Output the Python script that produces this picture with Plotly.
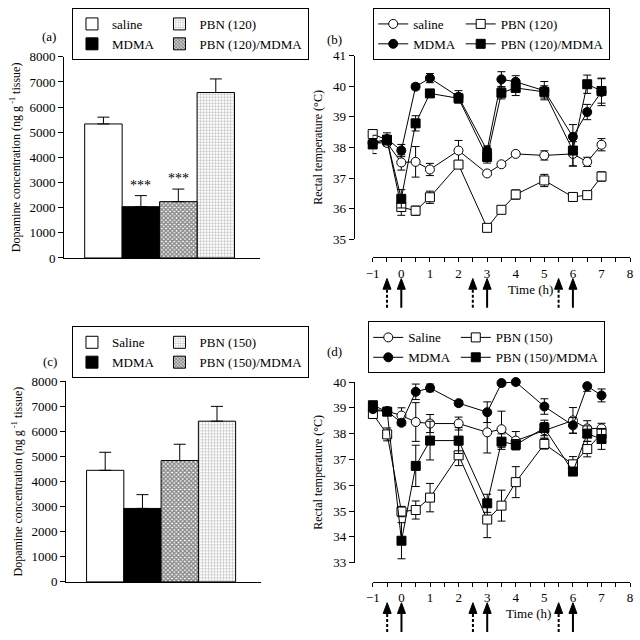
import plotly.graph_objects as go

# ---------------- data ----------------
bar_groups_a = ["saline", "MDMA", "PBN (120)/MDMA", "PBN (120)"]
bar_mean_a = [5330, 2040, 2240, 6580]
bar_err_a = [270, 440, 500, 540]
sig_a = ["", "***", "***", ""]

bar_groups_c = ["Saline", "MDMA", "PBN (150)/MDMA", "PBN (150)"]
bar_mean_c = [4450, 2930, 4840, 6410]
bar_err_c = [720, 550, 650, 590]

time_h = [-1, -0.5, 0, 0.5, 1, 2, 3, 3.5, 4, 5, 6, 6.5, 7]

# panel (b)
b_saline = [38.15, 38.15, 37.51, 37.53, 37.28, 37.90, 37.15, 37.45, 37.79, 37.74, 37.79, 37.53, 38.09]
b_saline_err = [0.1, 0.1, 0.25, 0.5, 0.2, 0.33, 0.05, 0.05, 0.05, 0.15, 0.4, 0.15, 0.2]
b_pbn = [38.44, 38.25, 36.05, 35.93, 36.37, 37.44, 35.37, 35.96, 36.46, 36.92, 36.38, 36.44, 37.05]
b_pbn_err = [0.1, 0.1, 0.27, 0.15, 0.2, 0.1, 0.05, 0.05, 0.15, 0.2, 0.1, 0.05, 0.15]
b_mdma = [38.15, 38.28, 37.90, 39.99, 40.27, 39.66, 37.90, 40.23, 40.15, 39.86, 38.35, 39.16, 39.82]
b_mdma_err = [0.1, 0.2, 0.2, 0.1, 0.15, 0.2, 0.15, 0.25, 0.2, 0.3, 0.4, 0.25, 0.45]
b_pbnmdma = [38.10, 38.25, 36.32, 38.79, 39.77, 39.61, 37.69, 39.79, 39.95, 39.82, 37.90, 40.07, 39.85]
b_pbnmdma_err = [0.3, 0.1, 0.3, 0.25, 0.1, 0.15, 0.2, 0.2, 0.25, 0.2, 0.5, 0.3, 0.4]

# panel (d)
d_saline = [38.89, 38.87, 38.70, 38.45, 38.39, 38.39, 38.05, 38.17, 37.73, 38.13, 38.51, 38.20, 38.20]
d_saline_err = [0.1, 0.15, 0.3, 0.75, 0.35, 0.25, 0.8, 0.7, 0.35, 0.3, 0.5, 0.3, 0.2]
d_pbn = [38.76, 37.97, 34.98, 35.04, 35.52, 37.16, 34.67, 35.21, 36.12, 37.60, 36.81, 37.40, 38.00]
d_pbn_err = [0.1, 0.25, 0.2, 0.35, 0.55, 0.4, 0.7, 0.6, 0.6, 0.2, 0.3, 0.3, 0.2]
d_mdma = [38.95, 38.87, 38.42, 39.62, 39.77, 39.18, 38.83, 39.96, 40.00, 39.05, 38.32, 39.84, 39.48]
d_mdma_err = [0.1, 0.1, 0.1, 0.3, 0.15, 0.1, 0.4, 0.1, 0.1, 0.3, 0.3, 0.2, 0.25]
d_pbnmdma = [39.10, 38.85, 33.85, 36.75, 37.73, 37.73, 35.30, 37.69, 37.57, 38.22, 36.53, 38.00, 37.79]
d_pbnmdma_err = [0.1, 0.1, 0.7, 0.8, 0.75, 0.5, 0.35, 0.3, 0.2, 0.3, 0.15, 0.3, 0.4]

pbn_inj_times = [-0.5, 2.5, 5.5]
mdma_inj_times = [0, 3, 6]

FONT = "Liberation Serif"
SIZE = 640


def px(x):
    return x / SIZE


def py(y):
    return 1 - y / SIZE


fig = go.Figure()

bar_styles = [
    dict(color="white", pattern=None),
    dict(color="black", pattern=None),
    dict(color="white", pattern=dict(shape="x", fgcolor="#111", bgcolor="white", size=3, solidity=0.7)),
    dict(color="white", pattern=dict(shape="+", fgcolor="#777", bgcolor="white", size=3, solidity=0.35)),
]
leg_groups_bar = ["g1", "g1", "g2", "g2"]


def add_bars(groups, means, errs, xa, ya, legend):
    order = [0, 1, 3, 2]
    for i in order:
        st = bar_styles[i]
        marker = dict(color=st["color"], line=dict(color="black", width=1))
        if st["pattern"] is not None:
            marker["pattern"] = st["pattern"]
        fig.add_trace(go.Bar(
            x=[groups[i]], y=[means[i]], name=groups[i], width=1,
            marker=marker, xaxis=xa, yaxis=ya, legend=legend,
            legendgroup=legend + leg_groups_bar[i],
            error_y=dict(type="data", symmetric=False, array=[errs[i]], arrayminus=[0],
                         color="black", thickness=1, width=6),
        ))


add_bars(bar_groups_a, bar_mean_a, bar_err_a, "x", "y", "legend")
add_bars(bar_groups_c, bar_mean_c, bar_err_c, "x3", "y3", "legend3")

line_styles = [
    dict(symbol="circle", fill="white"),
    dict(symbol="square", fill="white"),
    dict(symbol="circle", fill="black"),
    dict(symbol="square", fill="black"),
]


def add_lines(names, series, errs, xa, ya, legend):
    for k in range(4):
        st = line_styles[k]
        fig.add_trace(go.Scatter(
            x=time_h, y=series[k], name=names[k], mode="lines+markers",
            xaxis=xa, yaxis=ya, legend=legend, legendgroup=legend + ("g1" if k in (0, 2) else "g2"),
            line=dict(color="black", width=1),
            marker=dict(symbol=st["symbol"], size=9, color=st["fill"], line=dict(color="black", width=1)),
            error_y=dict(type="data", array=errs[k], color="black", thickness=1, width=4),
            cliponaxis=False,
        ))


add_lines(["saline", "PBN (120)", "MDMA", "PBN (120)/MDMA"],
          [b_saline, b_pbn, b_mdma, b_pbnmdma],
          [b_saline_err, b_pbn_err, b_mdma_err, b_pbnmdma_err], "x2", "y2", "legend2")
add_lines(["Saline", "PBN (150)", "MDMA", "PBN (150)/MDMA"],
          [d_saline, d_pbn, d_mdma, d_pbnmdma],
          [d_saline_err, d_pbn_err, d_mdma_err, d_pbnmdma_err], "x4", "y4", "legend4")

axis_font = dict(family=FONT, size=13, color="black")
title_font = dict(family=FONT, size=12, color="black")
ytitle_dopa = "Dopamine concentration (ng g<sup> -1</sup> tissue)"
ytitle_temp = "Rectal temperature (°C)"

bar_x = dict(showline=True, linecolor="black", linewidth=1, showticklabels=False, ticks="",
             range=[-1.05, 4.18], showgrid=False, zeroline=False, fixedrange=True)
bar_y = dict(showline=True, linecolor="black", linewidth=1, ticks="outside", ticklen=5,
             tickcolor="black", range=[0, 8000], dtick=1000, showgrid=False, zeroline=False,
             tickfont=axis_font, title=dict(text=ytitle_dopa, font=title_font, standoff=6))

fig.update_layout(
    xaxis=dict(bar_x, domain=[px(58), px(257)], anchor="y",
               categoryorder="array", categoryarray=bar_groups_a),
    yaxis=dict(bar_y, domain=[py(257), py(51)], anchor="x"),
    xaxis3=dict(bar_x, domain=[px(60), px(258)], anchor="y3",
                categoryorder="array", categoryarray=bar_groups_c),
    yaxis3=dict(bar_y, domain=[py(588.7), py(383.3)], anchor="x3"),
)

time_x = dict(showline=True, linecolor="black", linewidth=1, ticks="outside", ticklen=4,
              tickcolor="black", range=[-1, 8], dtick=1, showgrid=False, zeroline=False,
              tickfont=axis_font, anchor="free",
              minor=dict(dtick=0.5, ticks="outside", ticklen=4, tickcolor="black", showgrid=False))
temp_y = dict(showline=True, linecolor="black", linewidth=1, ticks="outside", ticklen=5,
              tickcolor="black", dtick=1, showgrid=False, zeroline=False, tickfont=axis_font,
              anchor="free", title=dict(text=ytitle_temp, font=title_font, standoff=6))

fig.update_layout(
    xaxis2=dict(time_x, domain=[px(371.5), px(633)], position=py(256)),
    yaxis2=dict(temp_y, domain=[py(237.7), py(50)], range=[35, 41], position=px(352)),
    xaxis4=dict(time_x, domain=[px(371.7), px(633)], position=py(588.3)),
    yaxis4=dict(temp_y, domain=[py(569), py(384)], range=[33, 40], position=px(352.3)),
)

leg_common = dict(orientation="h", traceorder="grouped", bgcolor="white", bordercolor="black",
                  borderwidth=1, font=dict(family=FONT, size=13, color="black"),
                  xanchor="left", yanchor="top", itemwidth=30, tracegroupgap=0, itemclick=False)
fig.update_layout(
    legend=dict(leg_common, x=px(66), y=py(1)),
    legend2=dict(leg_common, x=px(372), y=py(1)),
    legend3=dict(leg_common, x=px(66), y=py(327)),
    legend4=dict(leg_common, x=px(367), y=py(322)),
)

# asterisks
for i, s in enumerate(sig_a):
    if s:
        fig.add_annotation(x=bar_groups_a[i], y=bar_mean_a[i] + bar_err_a[i], xref="x", yref="y",
                           text=s, showarrow=False, yanchor="bottom", yshift=1,
                           font=dict(family=FONT, size=14, color="black"))

# panel labels
for lab, x, y in [("(a)", 43, 30), ("(b)", 333, 33), ("(c)", 44, 363), ("(d)", 333, 353)]:
    fig.add_annotation(x=px(x), y=py(y), xref="paper", yref="paper", text=lab, showarrow=False,
                       xanchor="center", yanchor="middle",
                       font=dict(family=FONT, size=13, color="black"))

# time labels
for x, y in [(532, 289), (530, 621)]:
    fig.add_annotation(x=px(x), y=py(y), xref="paper", yref="paper", text="Time (h)",
                       showarrow=False, xanchor="center", yanchor="middle",
                       font=dict(family=FONT, size=13, color="black"))


# injection arrows
def add_arrows(xref, tip, base, bottom):
    hw = 0.14
    for times, dash in [(pbn_inj_times, "3px,2px"), (mdma_inj_times, "solid")]:
        for t in times:
            fig.add_shape(type="line", xref=xref, yref="paper", x0=t, x1=t,
                          y0=py(bottom), y1=py(base), line=dict(color="black", width=2, dash=dash))
            fig.add_shape(type="path", xref=xref, yref="paper",
                          path=f"M {t - hw},{py(base)} L {t + hw},{py(base)} L {t},{py(tip)} Z",
                          fillcolor="black", line=dict(color="black", width=1))


add_arrows("x2", 278, 289, 308)
add_arrows("x4", 610, 621, 640)

fig.update_layout(
    width=SIZE, height=SIZE, margin=dict(l=0, r=0, t=0, b=0),
    paper_bgcolor="white", plot_bgcolor="white", barmode="overlay", bargap=0,
    font=dict(family=FONT, size=13, color="black"), showlegend=True,
)

fig.write_html("out.html", config={"displayModeBar": False, "staticPlot": True},
               post_script="document.body.style.margin='0';document.body.style.overflow='hidden';")
